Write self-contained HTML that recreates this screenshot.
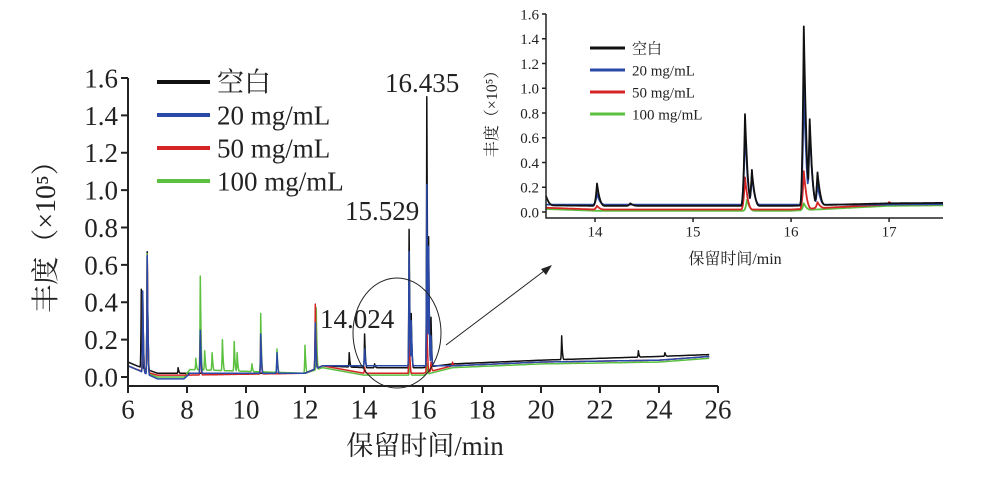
<!DOCTYPE html>
<html><head><meta charset="utf-8">
<style>
html,body{margin:0;padding:0;background:#fff;}
svg{display:block;font-family:"Liberation Serif","Noto Serif CJK SC",serif;}
</style></head>
<body>
<svg id="c" width="1001" height="477" viewBox="0 0 1001 477"></svg>
<script>
const seriesNames = ["空白","20 mg/mL","50 mg/mL","100 mg/mL"];
const seriesColors = ["#111111","#2b4aa8","#d42424","#5cc040"];
const mainXTicks = [6,8,10,12,14,16,18,20,22,24,26];
const mainYTicks = [0.0,0.2,0.4,0.6,0.8,1.0,1.2,1.4,1.6];
const insetXTicks = [14,15,16,17];
const insetYTicks = [0.0,0.2,0.4,0.6,0.8,1.0,1.2,1.4,1.6];
// baselines: [time, value]
const baseBlack = [[6,0.08],[6.3,0.06],[7,0.02],[8,0.02],[12,0.02],[12.6,0.06],[14,0.05],[16,0.05],[17,0.07],[20,0.09],[22,0.10],[24,0.11],[25.7,0.12]];
const baseBlue = [[6,0.06],[6.3,0.04],[7,-0.01],[7.9,-0.01],[8.1,0.02],[12,0.02],[12.6,0.06],[14,0.06],[16,0.06],[17,0.06],[20,0.08],[24,0.09],[25.7,0.11]];
const baseRed = [[6,0.06],[6.3,0.04],[7,0.01],[8,0.01],[12,0.02],[12.6,0.06],[14,0.02],[16,0.02],[17,0.06],[20,0.08],[24,0.09],[25.7,0.11]];
const baseGreen = [[6,0.06],[6.3,0.04],[7,0.0],[7.9,0.0],[8.1,0.04],[12,0.02],[12.6,0.05],[14,0.01],[16,0.01],[17,0.05],[20,0.07],[24,0.08],[25.7,0.10]];
// peaks: [time, height]
const peaksBlack = [[6.45,0.47],[6.65,0.67],[7.7,0.05],[12.35,0.25],[13.5,0.13],[14.02,0.23],[14.36,0.07],[15.53,0.79],[15.6,0.34],[16.13,1.5],[16.19,0.75],[16.27,0.32],[20.7,0.22],[23.3,0.14],[24.2,0.13]];
const peaksBlue = [[6.5,0.46],[6.65,0.65],[8.45,0.25],[10.5,0.23],[11.05,0.13],[12.35,0.29],[14.02,0.15],[15.53,0.67],[15.6,0.3],[16.13,1.03],[16.19,0.7],[16.27,0.22]];
const peaksRed = [[6.5,0.45],[6.65,0.65],[8.45,0.24],[10.5,0.22],[12.35,0.39],[14.02,0.05],[15.53,0.28],[16.13,0.33],[16.27,0.08],[17.0,0.08]];
const peaksGreen = [[6.5,0.45],[6.65,0.66],[8.3,0.1],[8.45,0.54],[8.6,0.14],[8.85,0.13],[9.2,0.2],[9.6,0.19],[9.7,0.13],[10.2,0.07],[10.5,0.34],[11.05,0.15],[12.0,0.17],[12.38,0.37],[15.55,0.1],[16.13,0.07]];
const allBase = [baseBlack,baseBlue,baseRed,baseGreen];
const allPeaks = [peaksBlack,peaksBlue,peaksRed,peaksGreen];

const NS="http://www.w3.org/2000/svg";
const svg=document.getElementById('c');
function mk(tag,attrs,parent){const e=document.createElementNS(NS,tag);for(const k in attrs)e.setAttribute(k,attrs[k]);(parent||svg).appendChild(e);return e;}
function baseAt(b,t){if(t<=b[0][0])return b[0][1];for(let i=1;i<b.length;i++){if(t<=b[i][0]){const f=(t-b[i-1][0])/(b[i][0]-b[i-1][0]);return b[i-1][1]+f*(b[i][1]-b[i-1][1]);}}return b[b.length-1][1];}
function valAt(b,p,t,w){
  let v=baseAt(b,t);
  for(const q of p){
    const d=t-q[0];const h=q[1]-baseAt(b,q[0]);
    let f=0;
    if(d<=0&&d>-w)f=Math.pow(1+d/w,2.5);
    else if(d>0&&d<2*w)f=Math.pow(1-d/(2*w),2.5);
    v=Math.max(v,baseAt(b,t)+h*f);
  }
  return v;
}
function buildPts(b,p,t0,t1,w,step){
  const pts=[];
  for(let t=t0;t<=t1+1e-9;t+=step)pts.push([t,valAt(b,p,t,w)]);
  return pts;
}
function drawChart(g,cfg){
  const X=t=>cfg.x0+(t-cfg.t0)/(cfg.t1-cfg.t0)*(cfg.x1-cfg.x0);
  const Y=v=>cfg.y0-(v/1.6)*(cfg.y0-cfg.y1);
  for(const s of cfg.order){
    const pts=buildPts(allBase[s],allPeaks[s],cfg.t0,cfg.dEnd,cfg.w,cfg.step);
    const pl=mk('polyline',{points:pts.map(p=>X(p[0]).toFixed(1)+','+Y(p[1]).toFixed(1)).join(' '),fill:'none',stroke:seriesColors[s],'stroke-width':cfg.sw,'stroke-linejoin':'round'},g);
    
    
  }
  const ax=mk('path',{d:`M${cfg.x0},${cfg.y1} V${cfg.axY} H${cfg.x1}`,fill:'none',stroke:'#222','stroke-width':cfg.aw},g);
  
  for(const v of cfg.yt){
    mk('line',{x1:cfg.x0-cfg.tl,x2:cfg.x0,y1:Y(v),y2:Y(v),stroke:'#222','stroke-width':cfg.aw},g);
    const t=mk('text',{x:cfg.x0-cfg.tl-3,y:Y(v)+cfg.fs*0.35,'text-anchor':'end','font-size':cfg.fs,fill:'#222'},g);
    t.textContent=v.toFixed(1);
  }
  for(const v of cfg.xt){
    mk('line',{x1:X(v),x2:X(v),y1:cfg.axY,y2:cfg.axY+cfg.tl,stroke:'#222','stroke-width':cfg.aw},g);
    const t=mk('text',{x:X(v),y:cfg.axY+cfg.tl+cfg.fs*0.95,'text-anchor':'middle','font-size':cfg.fs,fill:'#222'},g);
    t.textContent=v;
  }
}
const gm=mk('g',{});
drawChart(gm,{x0:128,x1:718,t0:6,t1:26,dEnd:25.7,y0:377,y1:78,axY:386,w:0.04,step:0.01,sw:1.5,aw:2,tl:7,fs:27,xt:mainXTicks,yt:mainYTicks,prefix:'main-',order:[0,3,2,1]});
const gi=mk('g',{});
drawChart(gi,{x0:546,x1:943,t0:13.5,t1:17.55,dEnd:17.55,y0:212,y1:14,axY:218,w:0.04,step:0.005,sw:1.8,aw:1.5,tl:4,fs:15,xt:insetXTicks,yt:insetYTicks,prefix:'inset-',order:[3,2,1,0]});
function legend(x,y0,dy,len,fs,sw,prefix){
  for(let i=0;i<4;i++){
    const y=y0+i*dy;
    const l=mk('line',{x1:x,x2:x+len,y1:y,y2:y,stroke:seriesColors[i],'stroke-width':sw});
    
    const t=mk('text',{x:x+len+7,y:y+fs*0.35,'font-size':fs,fill:'#222'});
    t.textContent=seriesNames[i];
  }
}
legend(157,82,33,53,27,4,'main-');
legend(590,48,22,35,15,3,'inset-');
function txt(s,x,y,fs,name,extra){const t=mk('text',Object.assign({x:x,y:y,'font-size':fs,fill:'#222'},extra||{}));t.textContent=s;return t;}
txt('16.435',385,92,27,'peak-label-16435');
txt('15.529',345,220,27,'peak-label-15529');
txt('14.024',320,328,27,'peak-label-14024');
txt('保留时间/min',425,455,27,'x-axis-title',{'text-anchor':'middle'});
txt('保留时间/min',735,264,16,'inset-x-axis-title',{'text-anchor':'middle'});
txt('丰度（×10⁵）',0,0,28,'y-axis-title',{'text-anchor':'middle',transform:'translate(55,230) rotate(-90)'});
txt('丰度（×10⁵）',0,0,16,'inset-y-axis-title',{'text-anchor':'middle',transform:'translate(497,110) rotate(-90)'});
const el=mk('ellipse',{cx:397,cy:333,rx:44,ry:55,fill:'none',stroke:'#222','stroke-width':1});

const ar=mk('line',{x1:446,y1:345,x2:548,y2:268,stroke:'#222','stroke-width':1});

const ah=mk('polygon',{points:'552,265 541,269 546,275',fill:'#222'});

</script>
</body></html>
